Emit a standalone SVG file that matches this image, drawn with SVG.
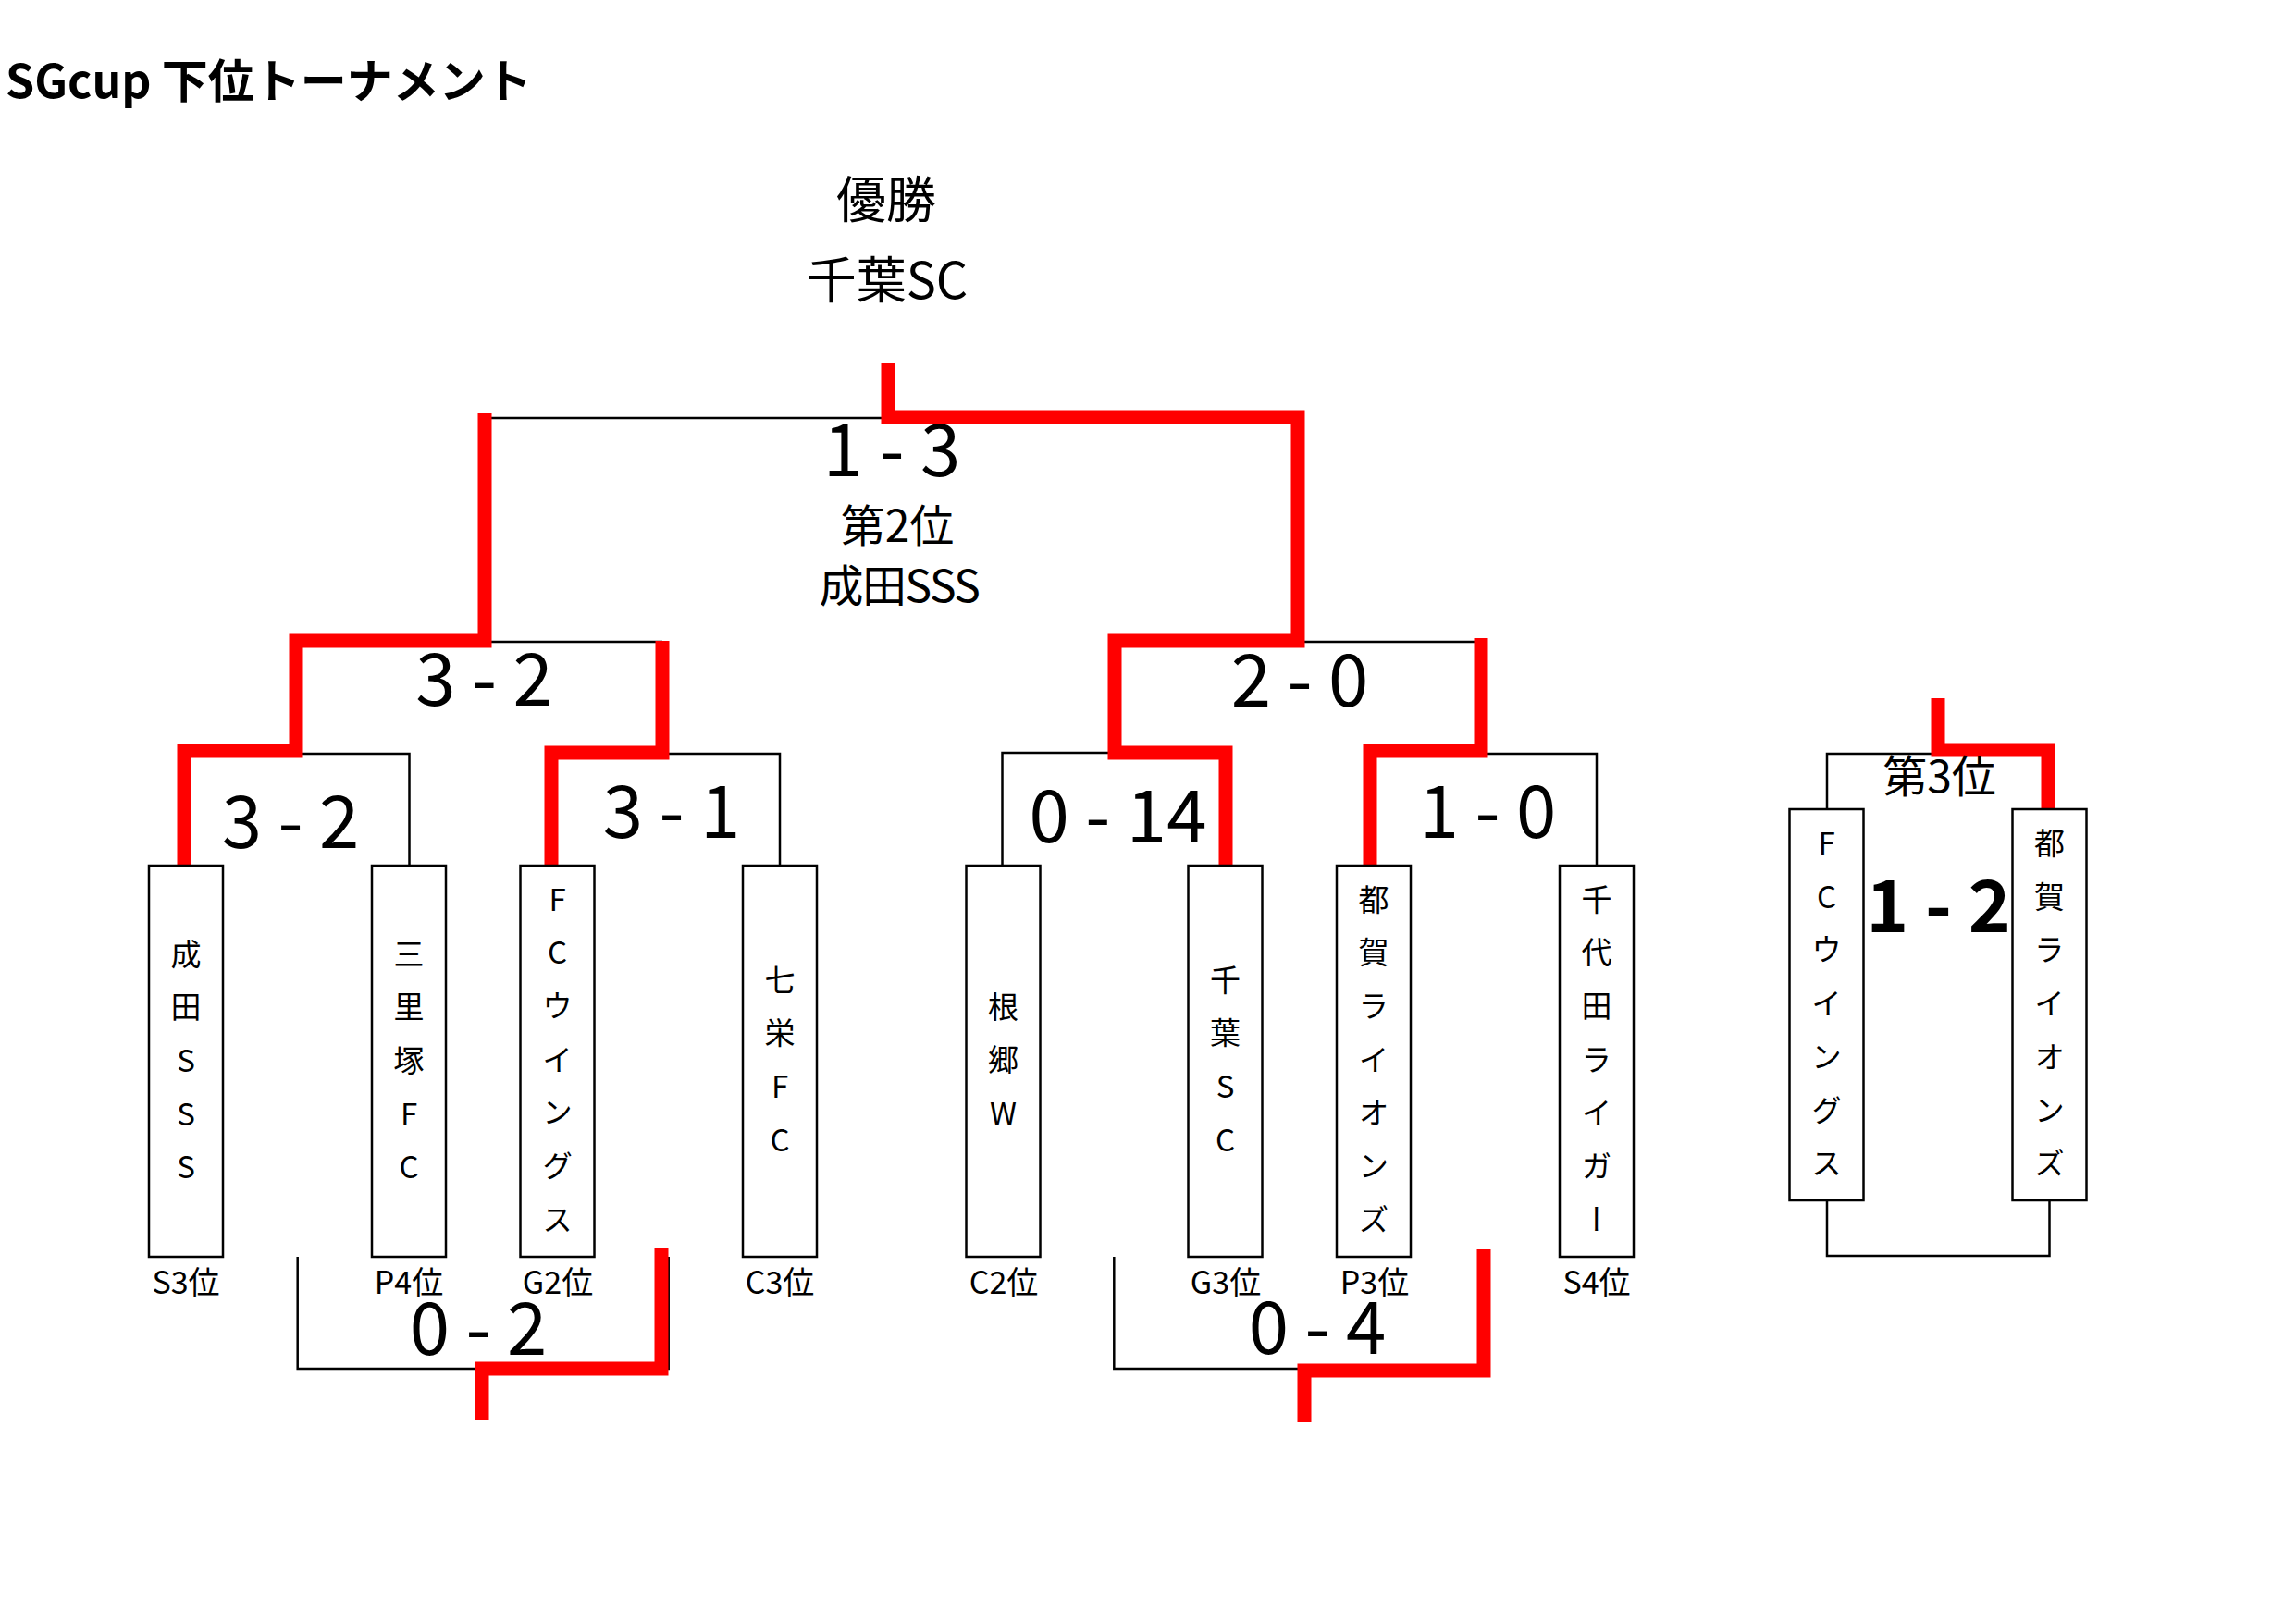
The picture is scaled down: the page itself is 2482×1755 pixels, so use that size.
<svg xmlns="http://www.w3.org/2000/svg" width="2482" height="1755" viewBox="0 0 2482 1755">
<style>
text { font-family: "Noto Sans CJK JP", "Noto Sans", sans-serif; fill: #000; }
.title { font-size: 50px; font-weight: bold; }
.head { font-size: 54px; text-anchor: middle; }
.sub { font-size: 48px; text-anchor: middle; }
.score { font-size: 78px; text-anchor: middle; }
.bold { font-weight: bold; }
.v { font-size: 33px; writing-mode: vertical-rl; text-orientation: upright; letter-spacing: 24.7px; }
.rank { font-size: 34px; text-anchor: middle; }
.box { fill: #fff; stroke: #000; stroke-width: 2.5; }
.bk { fill: none; stroke: #000; stroke-width: 2.5; }
.red { fill: none; stroke: #f00; stroke-width: 15; stroke-linejoin: miter; stroke-linecap: butt; }
</style>
<rect width="2482" height="1755" fill="#fff"/>
<text class="title" x="6" y="106">SGcup 下位トーナメント</text>
<g id="champion">
<text class="head" x="958" y="236">優勝</text>
<text class="head" x="959" y="323">千葉SC</text>
</g>
<g id="runner-up">
<text class="sub" x="970" y="586">第2位</text>
<text class="sub" x="972" y="651" letter-spacing="-1.5">成田SSS</text>
</g>
<g id="connectors">
<path class="bk" d="M524 452 H1403"/>
<path class="bk" d="M320 694 H716"/>
<path class="bk" d="M1205 694 H1601"/>
<path class="bk" d="M199 815 H442.5 V936"/>
<path class="bk" d="M596 815 H843 V936"/>
<path class="bk" d="M1083.5 936 V814 H1325"/>
<path class="bk" d="M1481 815 H1726 V936"/>
<path class="bk" d="M321.7 1359 V1480 H722.7 V1359"/>
<path class="bk" d="M1204.3 1359 V1480 H1606 V1359"/>
<path class="bk" d="M1975 875 V815 H2214"/>
<path class="bk" d="M1975 1298 V1358 H2215.5 V1298"/>
<path class="red" d="M960 393 V451 H1403 V693 H1205 V814 H1325 V936"/>
<path class="red" d="M524 447 V693 H320 V812 H199 V936"/>
<path class="red" d="M716 693 V814 H596 V936"/>
<path class="red" d="M1601 690 V812 H1481 V936"/>
<path class="red" d="M715 1350 V1480 H521 V1535"/>
<path class="red" d="M1604 1351 V1482 H1410 V1538"/>
<path class="red" d="M2095 755 V811 H2214 V875"/>
</g>
<g id="scores">
<text class="score" x="964" y="515">1 - 3</text>
<text class="score" x="523.5" y="763">3 - 2</text>
<text class="score" x="1405" y="764">2 - 0</text>
<text class="score" x="314" y="917">3 - 2</text>
<text class="score" x="726" y="906">3 - 1</text>
<text class="score" x="1208.5" y="911">0 - 14</text>
<text class="score" x="1608" y="906">1 - 0</text>
<text class="score" x="517" y="1465">0 - 2</text>
<text class="score" x="1424" y="1464">0 - 4</text>
</g>
<g id="team-narita">
<rect class="box" x="161" y="936" width="80" height="423"/>
<text class="v" x="201" y="1014.5">成田SSS</text>
<text class="rank" x="201" y="1399">S3位</text>
</g>
<g id="team-sanrizuka">
<rect class="box" x="402" y="936" width="80" height="423"/>
<text class="v" x="442" y="1014.5">三里塚FC</text>
<text class="rank" x="442" y="1399">P4位</text>
</g>
<g id="team-fcwings">
<rect class="box" x="562.5" y="936" width="80" height="423"/>
<text class="v" x="602.5" y="955.5">FCウイングス</text>
<text class="rank" x="603" y="1399">G2位</text>
</g>
<g id="team-shichiei">
<rect class="box" x="803" y="936" width="80" height="423"/>
<text class="v" x="843" y="1042.5">七栄FC</text>
<text class="rank" x="843" y="1399">C3位</text>
</g>
<g id="team-nego">
<rect class="box" x="1044.5" y="936" width="80" height="423"/>
<text class="v" x="1084.5" y="1071.5">根郷W</text>
<text class="rank" x="1085" y="1399">C2位</text>
</g>
<g id="team-chibasc">
<rect class="box" x="1284.5" y="936" width="80" height="423"/>
<text class="v" x="1324.5" y="1042.5">千葉SC</text>
<text class="rank" x="1325" y="1399">G3位</text>
</g>
<g id="team-tsuga">
<rect class="box" x="1445" y="936" width="80" height="423"/>
<text class="v" x="1485" y="955.5">都賀ライオンズ</text>
<text class="rank" x="1486" y="1399">P3位</text>
</g>
<g id="team-chiyoda">
<rect class="box" x="1686" y="936" width="80" height="423"/>
<text class="v" x="1726" y="955.5">千代田ライガー</text>
<text class="rank" x="1726" y="1399">S4位</text>
</g>
<g id="third-place">
<text class="sub" x="2096.5" y="857">第3位</text>
<text class="score bold" x="2095.5" y="1008">1 - 2</text>
</g>
<g id="third-fcwings">
<rect class="box" x="1934.5" y="875" width="80" height="423"/>
<text class="v" x="1974.5" y="895">FCウイングス</text>
</g>
<g id="third-tsuga">
<rect class="box" x="2175.5" y="875" width="80" height="423"/>
<text class="v" x="2215.5" y="895">都賀ライオンズ</text>
</g>
</svg>
